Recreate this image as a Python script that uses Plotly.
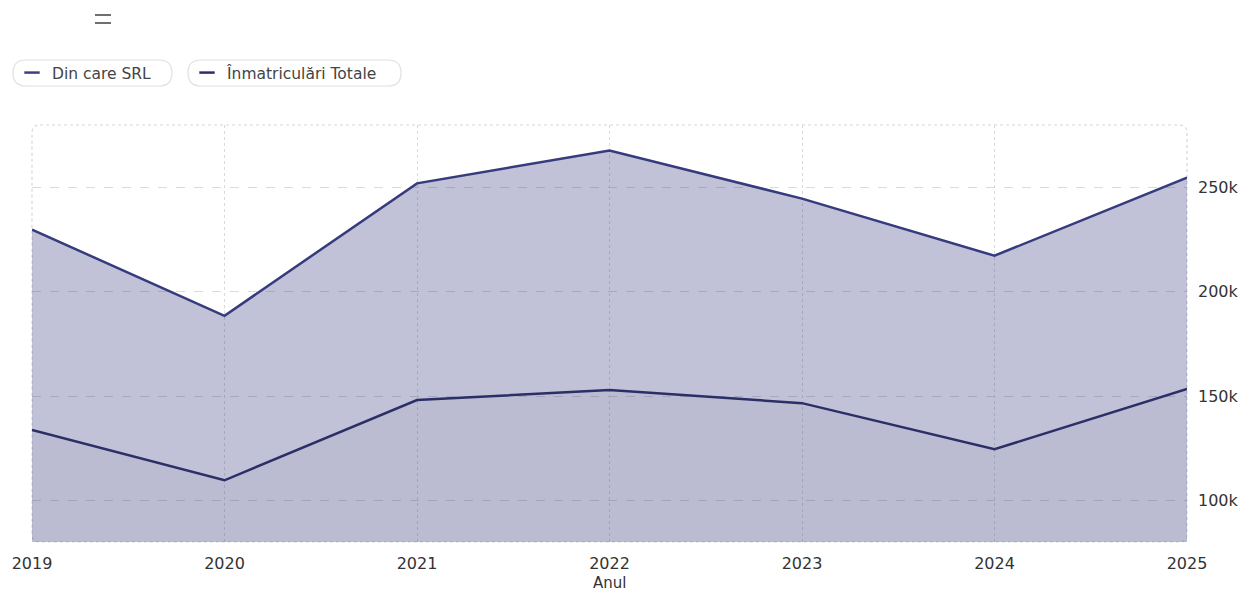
import plotly.graph_objects as go

years = [2019, 2020, 2021, 2022, 2023, 2024, 2025]
totale = [229800, 188500, 252000, 267800, 244700, 217300, 254800]
srl = [133700, 109600, 148100, 152900, 146600, 124500, 153400]
y_ticks = [100000, 150000, 200000, 250000]
y_tick_text = ["100k", "150k", "200k", "250k"]
name_srl = "Din care SRL"
name_tot = "Înmatriculări Totale"
x_title = "Anul"

W, H = 1244, 592
ML, MR, MT, MB = 32, 57, 125, 50
PW, PH = W - ML - MR, H - MT - MB

def px2paper(px, py):
    return (px - ML) / PW, (H - MB - py) / PH

def P(x, y):
    a, b = px2paper(x, y)
    return f"{a:.5f},{b:.5f}"

def rounded_rect(x0, y0, x1, y1, r):
    return (f"M {P(x0 + r, y0)} L {P(x1 - r, y0)} Q {P(x1, y0)} {P(x1, y0 + r)} "
            f"L {P(x1, y1 - r)} Q {P(x1, y1)} {P(x1 - r, y1)} "
            f"L {P(x0 + r, y1)} Q {P(x0, y1)} {P(x0, y1 - r)} "
            f"L {P(x0, y0 + r)} Q {P(x0, y0)} {P(x0 + r, y0)} Z")

FONT = "DejaVu Sans, sans-serif"
c_tot = "#363b7d"
c_srl = "#2c2e68"

fig = go.Figure()
fig.add_trace(go.Scatter(x=years, y=totale, mode="lines", name=name_tot,
                         line=dict(color=c_tot, width=2.5), fill="tozeroy",
                         fillcolor="rgba(54,59,125,0.31)", showlegend=False))
fig.add_trace(go.Scatter(x=years, y=srl, mode="lines", name=name_srl,
                         line=dict(color=c_srl, width=2.5), fill="tozeroy",
                         fillcolor="rgba(120,120,140,0.07)", showlegend=False))
# legend entries
fig.add_trace(go.Scatter(x=[None], y=[None], mode="markers", name=name_srl,
                         marker=dict(symbol="line-ew-open", size=11, color="#3b3f86",
                                     line=dict(width=2.5, color="#3b3f86")),
                         legend="legend"))
fig.add_trace(go.Scatter(x=[None], y=[None], mode="markers", name=name_tot,
                         marker=dict(symbol="line-ew-open", size=11, color="#2c2e68",
                                     line=dict(width=2.5, color="#2c2e68")),
                         legend="legend2"))

shapes = []
# plot border (dotted, rounded top corners)
shapes.append(dict(type="path", xref="paper", yref="paper",
                   path=rounded_rect(ML, MT, ML + PW, H - MB, 8),
                   line=dict(color="#d8d8d8", width=1.2, dash="dot"),
                   fillcolor="rgba(0,0,0,0)", layer="below"))
# legend pills
shapes.append(dict(type="path", xref="paper", yref="paper",
                   path=rounded_rect(13, 60, 172, 86, 13),
                   line=dict(color="#e0e0e0", width=1.2), fillcolor="rgba(0,0,0,0)"))
shapes.append(dict(type="path", xref="paper", yref="paper",
                   path=rounded_rect(188, 60, 401, 86, 13),
                   line=dict(color="#e0e0e0", width=1.2), fillcolor="rgba(0,0,0,0)"))
# menu icon (two short bars)
for yy in (15, 23):
    a0, b0 = px2paper(95, yy)
    a1, _ = px2paper(111, yy)
    shapes.append(dict(type="line", xref="paper", yref="paper", x0=a0, x1=a1, y0=b0, y1=b0,
                       line=dict(color="#222222", width=1.3)))

lx1, ly = px2paper(12, 73)
lx2, _ = px2paper(187, 73)
tx, ty = px2paper(610, 583)

fig.update_layout(
    width=W, height=H,
    margin=dict(l=ML, r=MR, t=MT, b=MB),
    paper_bgcolor="white", plot_bgcolor="white",
    font=dict(family=FONT, color="#333333", size=15),
    shapes=shapes,
    annotations=[dict(text=x_title, x=0.5, y=ty, xref="paper", yref="paper",
                      xanchor="center", yanchor="middle", showarrow=False,
                      font=dict(size=15, color="#333333"))],
    legend=dict(x=lx1, y=ly, xanchor="left", yanchor="middle", orientation="h",
                bgcolor="rgba(0,0,0,0)", font=dict(size=15.5, color="#444444", family=FONT)),
    legend2=dict(x=lx2, y=ly, xanchor="left", yanchor="middle", orientation="h",
                 bgcolor="rgba(0,0,0,0)", font=dict(size=15.5, color="#444444", family=FONT)),
    xaxis=dict(range=[2019, 2025], tickvals=years, ticktext=[str(y) for y in years],
               showgrid=True, gridcolor="#dadada", griddash="dot", gridwidth=1.2,
               zeroline=False, showline=False, ticks="", automargin=False,
               ticklabelstandoff=10,
               tickfont=dict(size=16, color="#333333")),
    yaxis=dict(range=[80000, 280000], side="right", tickvals=y_ticks, ticktext=y_tick_text,
               showgrid=True, gridcolor="#dadada", griddash="dash", gridwidth=1,
               zeroline=False, showline=False, ticks="", automargin=False,
               ticklabelstandoff=10,
               tickfont=dict(size=16, color="#333333")),
    showlegend=True,
)

fig.write_html("out.html", config={"displayModeBar": False},
               post_script="document.body.style.margin='0';document.body.style.overflow='hidden';")
